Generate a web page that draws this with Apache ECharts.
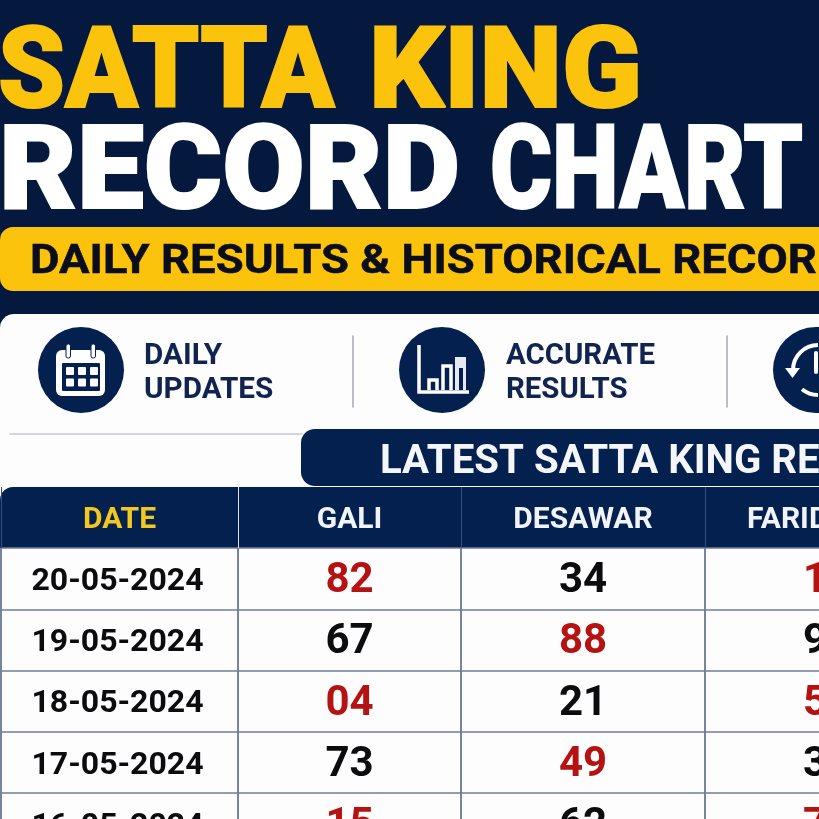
<!DOCTYPE html>
<html>
<head>
    <meta charset="utf-8">
    <title>Satta King Record Chart</title>
    <script src="https://cdn.jsdelivr.net/npm/echarts@6/dist/echarts.min.js"></script>
    <style>
        html, body { margin: 0; padding: 0; background: #05193f; overflow: hidden; }
        #main { width: 819px; height: 819px; }
    </style>
</head>
<body>
    <div id="main"></div>
    <script>
        // table data
        var columnNames = ['DATE', 'GALI', 'DESAWAR', 'FARIDABAD'];
        var rowDates = ['20-05-2024', '19-05-2024', '18-05-2024', '17-05-2024', '16-05-2024'];
        var galiValues = ['82', '67', '04', '73', '15'];
        var desawarValues = ['34', '88', '21', '49', '62'];
        var faridValues = ['19', '95', '56', '38', '72'];
        // 1 = printed in red
        var galiRed = [1, 0, 1, 0, 1];
        var desawarRed = [0, 1, 0, 1, 0];
        var faridRed = [1, 0, 1, 0, 1];

        var NAVY = '#05193f';
        var HEAD = '#04204f';
        var GOLD = '#fcc30c';
        var RED = '#b51212';
        var INK = '#0c0c0f';
        var LINE = '#6f7c99';
        var FONT = 'Roboto';

        var colEdges = [1, 238, 461, 705, 949];
        var tableTop = 548;
        var rowHeight = 61.3;

        var columns = [
            { values: rowDates, red: null, size: 32, dx: -2 },
            { values: galiValues, red: galiRed, size: 42, dx: 0 },
            { values: desawarValues, red: desawarRed, size: 42, dx: 0 },
            { values: faridValues, red: faridRed, size: 42, dx: 0 }
        ];

        var grids = [], xAxes = [], yAxes = [], series = [];
        columns.forEach(function (col, i) {
            grids.push({
                left: colEdges[i], top: tableTop,
                width: colEdges[i + 1] - colEdges[i],
                height: rowHeight * rowDates.length,
                outerBoundsMode: 'none',
                show: false
            });
            xAxes.push({
                type: 'category', gridIndex: i, position: 'top', z: 5,
                data: [columnNames[i]],
                axisLine: { show: false },
                axisTick: { show: true, length: 61, lineStyle: { color: i === 1 ? '#dfe4ee' : '#33507f', width: 1 } },
                axisLabel: {
                    interval: 0, margin: 13, fontFamily: FONT, fontWeight: 700, fontSize: 30,
                    color: i === 0 ? '#f2c820' : '#f1f3f7'
                },
                splitLine: { show: true, lineStyle: { color: LINE, width: 1.5 } }
            });
            yAxes.push({
                type: 'category', gridIndex: i, inverse: true, z: 5,
                data: rowDates,
                axisLine: { show: false }, axisTick: { show: false }, axisLabel: { show: false },
                splitLine: { show: true, lineStyle: { color: LINE, width: 1.5 } }
            });
            series.push({
                type: 'scatter', xAxisIndex: i, yAxisIndex: i, symbolSize: 0, silent: true, z: 6,
                itemStyle: { opacity: 1 },
                data: col.values.map(function (v, r) {
                    return {
                        value: [columnNames[i], rowDates[r]],
                        label: { formatter: v, color: col.red && col.red[r] ? RED : INK }
                    };
                }),
                label: {
                    show: true, position: 'inside', opacity: 1, offset: [col.dx, 3],
                    fontFamily: FONT, fontWeight: 700, fontSize: col.size
                }
            });
        });

        // y is the middle of the capitals
        function txt(text, x, y, size, color, sx, weight, stroke) {
            return {
                type: 'text', x: x, y: y, scaleX: sx || 1, z: 3,
                style: {
                    text: text, fontFamily: FONT, fontWeight: weight || 700, fontSize: size,
                    fill: color, verticalAlign: 'middle',
                    stroke: stroke ? color : null, lineWidth: stroke || 0
                }
            };
        }
        function box(x, y, w, h, r, fill, z) {
            return { type: 'rect', z: z || 1, shape: { x: x, y: y, width: w, height: h, r: r }, style: { fill: fill } };
        }
        function seg(x1, y1, x2, y2, color, w) {
            return { type: 'line', z: 2, shape: { x1: x1, y1: y1, x2: x2, y2: y2 }, style: { stroke: color, lineWidth: w, lineCap: 'round' } };
        }
        function disc(cx, cy, r) {
            return { type: 'circle', z: 2, shape: { cx: cx, cy: cy, r: r }, style: { fill: HEAD } };
        }

        // calendar icon
        var calendar = [
            disc(81, 370, 43),
            box(56, 350, 49, 46, 6, '#fff', 3),
            box(62, 363, 38, 28, 1, HEAD, 3),
            { type: 'rect', z: 4, shape: { x: 66, y: 344, width: 4.5, height: 14, r: 2 }, style: { fill: '#fff', stroke: HEAD, lineWidth: 1 } },
            { type: 'rect', z: 4, shape: { x: 91, y: 344, width: 4.5, height: 14, r: 2 }, style: { fill: '#fff', stroke: HEAD, lineWidth: 1 } }
        ];
        [0, 1, 2].forEach(function (c) {
            [0, 1].forEach(function (r) {
                calendar.push(box(66 + c * 12, 367 + r * 11.5, 8, 8, 1, '#fff', 4));
            });
        });

        // bar icon
        var barIcon = [
            disc(442, 370, 43),
            { type: 'polyline', z: 3, shape: { points: [[419, 345], [419, 392], [469, 392]] }, style: { fill: 'none', stroke: '#fff', lineWidth: 3.5 } },
            { type: 'polyline', z: 3, shape: { points: [[429, 390], [429, 380], [437, 380], [437, 390]] }, style: { fill: 'none', stroke: '#fff', lineWidth: 3.5 } },
            { type: 'polyline', z: 3, shape: { points: [[443, 390], [443, 366], [451, 366], [451, 390]] }, style: { fill: 'none', stroke: '#fff', lineWidth: 3.5 } },
            box(455, 357, 11, 33, 0, '#e6e9f0', 3),
            box(459, 368, 4, 22, 0, HEAD, 4)
        ];

        // history clock icon, cut by the right edge
        var clockIcon = [
            disc(816, 370, 43),
            { type: 'arc', z: 3, shape: { cx: 818, cy: 370, r: 25, startAngle: Math.PI, endAngle: Math.PI * 1.5, clockwise: true }, style: { fill: 'none', stroke: '#fff', lineWidth: 4 } },
            { type: 'arc', z: 3, shape: { cx: 818, cy: 370, r: 25, startAngle: Math.PI * 0.5, endAngle: Math.PI * 0.72, clockwise: true }, style: { fill: 'none', stroke: '#fff', lineWidth: 4 } },
            { type: 'polygon', z: 3, shape: { points: [[785, 368], [800, 368], [792.5, 378]] }, style: { fill: '#fff' } },
            seg(816, 353, 816, 372, '#fff', 4)
        ];

        var graphics = [
            box(0, 0, 819, 819, 0, NAVY, -5),
            txt('SATTA', -2, 78, 114, GOLD, 0.94, 900, 2),
            txt('KING', 369, 78, 114, GOLD, 1.03, 900, 2),
            txt('RECORD', -1, 179, 116, '#ffffff', 1.03, 900, 2),
            txt('CHART', 490, 179, 116, '#ffffff', 0.816, 900, 2),
            box(0, 227, 840, 64, 13, GOLD),
            txt('DAILY RESULTS & HISTORICAL RECORDS', 30, 263, 40, '#0a0e1c', 1.136, 700, 0.5),
            box(0, 314, 840, 520, [14, 0, 0, 0], '#fdfdfe'),
            txt('DAILY', 144, 356, 30, '#10244f', 0.99), txt('UPDATES', 144, 390, 30, '#10244f', 0.99),
            txt('ACCURATE', 506, 356, 30, '#10244f', 0.98), txt('RESULTS', 506, 390, 30, '#10244f', 0.98),
            seg(353, 336, 353, 407, '#a4a9b4', 1.5), seg(727, 336, 727, 407, '#a4a9b4', 1.5),
            seg(10, 434, 302, 434, '#c6c9d0', 1.5),
            box(301, 429, 540, 57, [14, 0, 0, 14], HEAD),
            txt('LATEST SATTA KING RESULTS', 380, 463, 40, '#f4f6fa', 1.005, 700),
            box(0, 487, 840, 61, [13, 0, 0, 0], HEAD),
            seg(1, 548, 1, 819, LINE, 1.5)
        ].concat(calendar, barIcon, clockIcon);

        var chart = echarts.init(document.getElementById('main'));
        chart.setOption({
            animation: false,
            backgroundColor: NAVY,
            graphic: { elements: graphics },
            grid: grids,
            xAxis: xAxes,
            yAxis: yAxes,
            series: series
        });
    </script>
</body>
</html>
